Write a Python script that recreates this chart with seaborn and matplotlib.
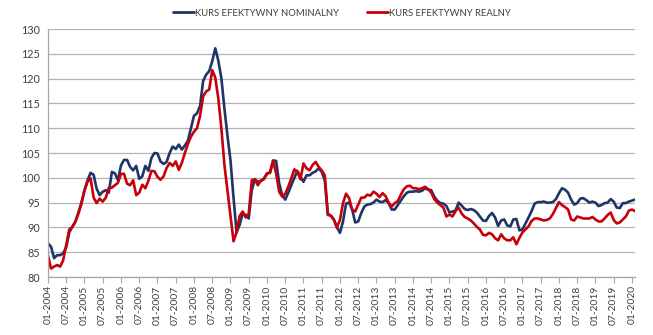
import matplotlib
matplotlib.use("Agg")
import matplotlib.pyplot as plt
import seaborn as sns
import pandas as pd
import numpy as np
from matplotlib.lines import Line2D

# Monthly data, 01-2004 .. 02-2020
start_month = "2004-01"
nominal = [
    86.8, 86.1, 83.8, 84.4, 84.4, 84.8, 86.0, 89.0, 90.1, 91.2, 93.0, 95.0,
    97.5, 99.5, 101.0, 100.6, 97.8, 96.5, 97.2, 97.5, 97.0, 101.2, 100.9, 99.5,
    102.5, 103.6, 103.6, 102.2, 101.5, 102.4, 99.8, 100.3, 102.4, 101.4, 104.0, 105.0,
    104.9, 103.3, 102.8, 103.2, 105.0, 106.3, 105.8, 106.7, 105.7, 106.5, 107.5, 110.0,
    112.5, 113.0, 114.5, 119.5, 120.8, 121.5, 123.5, 126.1, 123.6, 120.1, 114.0, 108.5,
    103.5, 96.0, 89.0, 90.5, 92.8, 92.5, 91.8, 97.5, 99.7, 99.2, 99.3, 99.9,
    100.8, 101.1, 103.5, 103.4, 98.9, 96.5, 95.6, 97.0, 98.5, 100.0, 101.4, 100.2,
    99.2, 100.5, 100.5, 101.0, 101.3, 101.9, 101.2, 99.5, 92.5, 92.4, 91.6, 90.0,
    88.9, 91.2, 94.8, 95.0, 93.6, 91.0, 91.2, 92.9, 94.2, 94.6, 94.7, 95.0,
    95.6, 95.2, 95.1, 95.5, 94.9, 93.6, 93.6, 94.5, 95.4, 96.3, 97.0, 97.2,
    97.2, 97.3, 97.2, 97.4, 97.9, 97.6, 97.5, 96.2, 95.4, 94.9, 94.8, 94.3,
    93.0, 93.2, 93.4, 95.0, 94.4, 93.7, 93.5, 93.7, 93.5, 93.0, 92.2, 91.4,
    91.3, 92.3, 92.9, 92.0, 90.3, 91.4, 91.6, 90.4, 90.2, 91.6, 91.7, 89.4,
    89.6, 90.8, 92.0, 93.3, 94.8, 95.1, 95.1, 95.2, 95.0, 95.0, 95.1, 95.7,
    96.9, 97.9, 97.6, 97.0, 95.6, 94.6, 94.9, 95.8, 95.9, 95.5, 95.0, 95.2,
    95.0, 94.3, 94.5, 94.9, 95.0, 95.7, 95.2, 94.0, 93.9, 94.9, 94.9, 95.2,
    95.4, 95.6,
]
real = [
    84.3, 81.7, 82.1, 82.4, 82.1, 83.4, 86.5, 89.6, 90.1, 91.1, 92.8, 94.8,
    97.5, 99.2, 99.9, 96.0, 94.9, 95.8, 95.2, 96.0, 98.0, 98.0, 98.5, 99.0,
    100.8, 100.8, 98.8, 98.5, 99.5, 96.5, 97.0, 98.6, 97.9, 99.4, 101.4, 101.3,
    100.2, 99.6, 100.3, 102.0, 103.0, 102.4, 103.3, 101.6, 103.0, 105.0, 106.8, 108.3,
    109.3, 110.0, 112.5, 116.4, 117.4, 117.8, 121.7, 120.2, 116.0, 110.0, 102.6, 97.5,
    92.5, 87.2, 89.0, 92.3, 93.2, 92.0, 92.8, 99.5, 99.7, 98.5, 99.5, 99.7,
    100.9, 101.0, 103.4, 100.9, 97.2, 96.2, 96.8, 98.2, 99.9, 101.7, 101.2, 99.7,
    102.9, 101.9, 101.5, 102.6, 103.2, 102.2, 101.5, 100.5, 92.8, 92.3, 91.5, 90.0,
    91.5, 94.9, 96.8, 95.9, 93.6, 93.2, 94.6, 96.0, 96.0, 96.6, 96.4, 97.2,
    96.8, 96.1, 96.9, 96.3, 95.0, 94.2, 94.9, 95.3, 96.6, 97.7, 98.3, 98.4,
    97.9, 97.9, 97.7, 97.9, 98.2, 97.7, 97.0, 95.7, 95.0, 94.5, 94.0, 92.2,
    92.6, 92.2, 93.3, 94.0, 92.8, 92.1, 91.8, 91.4, 90.8, 90.1, 89.6, 88.5,
    88.4, 88.9, 88.6, 87.8, 87.4, 88.6, 87.8, 87.4, 87.4, 88.0, 86.6, 87.9,
    89.0, 89.6, 90.2, 91.3, 91.8, 91.8, 91.6, 91.4, 91.5, 91.8, 92.7, 93.9,
    95.1, 94.5, 94.1, 93.6, 91.6, 91.4, 92.2, 92.0, 91.8, 91.8, 91.8, 92.1,
    91.6, 91.2, 91.2, 91.8, 92.5, 93.0, 91.5, 90.8, 91.0, 91.6, 92.2, 93.4,
    93.6, 93.3,
]
series_names = ["KURS EFEKTYWNY NOMINALNY", "KURS EFEKTYWNY REALNY"]
y_ticks = [80, 85, 90, 95, 100, 105, 110, 115, 120, 125, 130]

dates = pd.period_range(start_month, periods=len(nominal), freq="M")
idx = np.arange(len(nominal))
tick_pos = idx[::6]
tick_labels = [d.strftime("%m-%Y") for d in dates[::6]]

df = pd.DataFrame({
    "idx": np.concatenate([idx, idx]),
    "value": nominal + real,
    "series": [series_names[0]] * len(nominal) + [series_names[1]] * len(real),
})

sns.set_theme(style="white")
plt.rcParams["font.family"] = ["Lato", "DejaVu Sans"]

fig = plt.figure(figsize=(6.53, 3.35), dpi=100)
ax = fig.add_axes([48 / 653, 1 - 277 / 335, (635 - 48) / 653, (277 - 29) / 335])

palette = {series_names[0]: "#1F3467", series_names[1]: "#C8000A"}
sns.lineplot(data=df, x="idx", y="value", hue="series", palette=palette,
             linewidth=1.9, ax=ax, legend=False)

ax.set_xlim(0, len(nominal) - 1)
ax.set_ylim(80, 130)
ax.set_yticks(y_ticks)
ax.set_yticklabels([str(t) for t in y_ticks], fontsize=7.8, color="#404040")
ax.set_xticks(tick_pos)
ax.set_xticklabels(tick_labels, rotation=90, fontsize=7.4, color="#404040")
ax.tick_params(axis="x", length=4, width=0.8, color="#A6A6A6", direction="out", pad=2, bottom=True)
ax.tick_params(axis="y", length=0, pad=6)
ax.set_xlabel("")
ax.set_ylabel("")
ax.yaxis.grid(True, color="#B3B3B3", linewidth=0.9)
ax.xaxis.grid(False)
for side in ["top", "right"]:
    ax.spines[side].set_visible(False)
for side in ["left", "bottom"]:
    ax.spines[side].set_color("#A6A6A6")
    ax.spines[side].set_linewidth(0.9)

handles = [Line2D([0], [0], color=palette[n], linewidth=2.0) for n in series_names]
fig.legend(handles, series_names, loc="center", bbox_to_anchor=(0.524, 1 - 13 / 335),
           ncol=2, frameon=False, fontsize=6.8, handlelength=2.2, handletextpad=0.1,
           columnspacing=3.0, labelcolor="#404040")

fig.savefig("out.png", dpi=100)
